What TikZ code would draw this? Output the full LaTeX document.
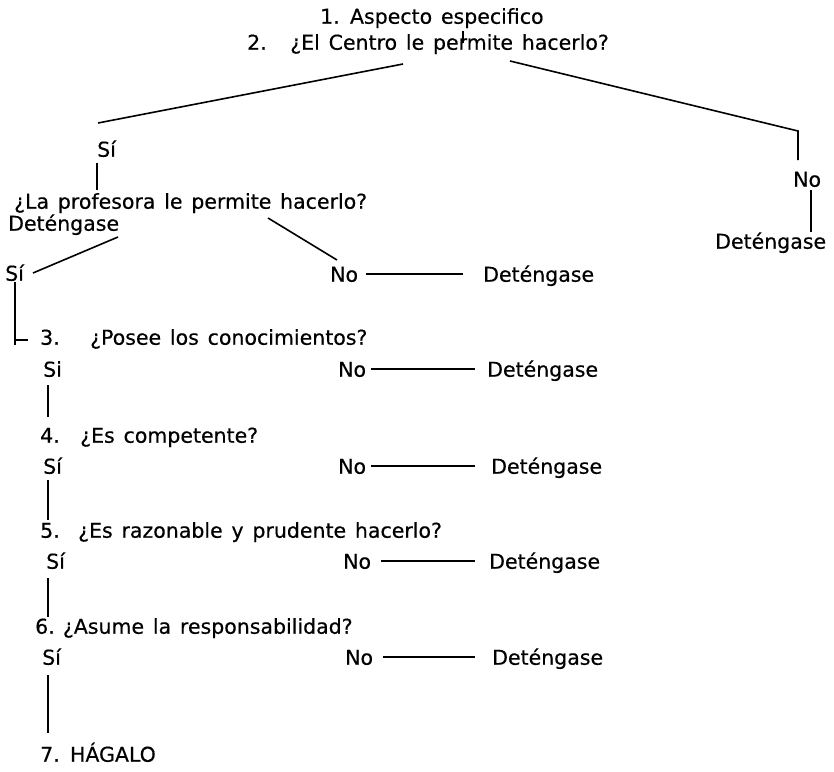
\documentclass[tikz,border=0pt]{standalone}
\usepackage{fontspec}
\setmainfont[WordSpace=1.35,FakeBold=0.4]{DejaVu Sans}
\begin{document}
\begin{tikzpicture}[x=1pt,y=-1pt,
  txt/.style={anchor=mid west, inner sep=0pt, font=\fontsize{20.5}{24}\selectfont},
  conn/.style={line width=1.6pt, black},
  thin/.style={line width=1.1pt, black}]
\fill[white] (0,0) rectangle (834,771);
\useasboundingbox (0,0) rectangle (834,771);
% nodes
\node[txt] (a1) at (320,21) {1.\hspace{0.5em}Aspecto especifico};
\node[txt] (a2) at (247,47) {2.\hspace{1.15em}¿El Centro le permite hacerlo?};
\node[txt] (si1) at (97,154) {Sí};
\node[txt] (no1) at (793,184) {No};
\node[txt] (det1) at (715,246) {Deténgase};
\node[txt] (prof) at (14,206) {¿La profesora le permite hacerlo?};
\node[txt] (det2) at (8,228) {Deténgase};
\node[txt] (si2) at (5,278) {Sí};
\node[txt] (no2) at (330,279) {No};
\node[txt] (det3) at (483,279) {Deténgase};
\node[txt] (q3n) at (40,342) {3.};
\node[txt] (q3) at (90,342) {¿Posee los conocimientos?};
\node[txt] (si3) at (43,374) {Si};
\node[txt] (no3) at (338,374) {No};
\node[txt] (det4) at (487,374) {Deténgase};
\node[txt] (q4) at (40,440) {4.\hspace{1em}¿Es competente?};
\node[txt] (si4) at (43,471) {Sí};
\node[txt] (no4) at (338,471) {No};
\node[txt] (det5) at (491,471) {Deténgase};
\node[txt] (q5) at (40,535) {5.\hspace{0.9em}¿Es razonable y prudente hacerlo?};
\node[txt] (si5) at (46,566) {Sí};
\node[txt] (no5) at (343,566) {No};
\node[txt] (det6) at (489,566) {Deténgase};
\node[txt] (q6) at (35,631) {6.\hspace{0.4em}¿Asume la responsabilidad?};
\node[txt] (si6) at (42,662) {Sí};
\node[txt] (no6) at (345,662) {No};
\node[txt] (det7) at (492,662) {Deténgase};
\node[txt] (q7) at (40,759) {7.\hspace{0.5em}HÁGALO};
% coordinates
\coordinate (t1) at (463,31);
\coordinate (t2) at (463,43);
\coordinate (c2l) at (403,64);
\coordinate (c2ll) at (98,123);
\coordinate (c2r) at (510,61);
\coordinate (c2rb) at (798,131);
\coordinate (c2rn) at (798,160);
\coordinate (n1a) at (811,190);
\coordinate (n1b) at (811,232);
\coordinate (s1a) at (97,163);
\coordinate (s1b) at (97,190);
\coordinate (d2a) at (118,237);
\coordinate (d2b) at (33,273);
\coordinate (pa) at (268,218);
\coordinate (pb) at (337,260);
\coordinate (s2a) at (15,282);
\coordinate (s2b) at (15,345);
\coordinate (s2c) at (15,340);
\coordinate (s2d) at (28,340);
\coordinate (v3a) at (48,385);
\coordinate (v3b) at (48,417);
\coordinate (v4a) at (48,480);
\coordinate (v4b) at (48,520);
\coordinate (v5a) at (48,578);
\coordinate (v5b) at (48,617);
\coordinate (v6a) at (48,675);
\coordinate (v6b) at (48,733);
% connectors
\draw[thin] (t1) -- (t2);
\draw[conn] (c2l) -- (c2ll);
\draw[conn] (c2r) -- (c2rb) -- (c2rn);
\draw[thin] (n1a) -- (n1b);
\draw[thin] (s1a) -- (s1b);
\draw[conn] (d2a) -- (d2b);
\draw[conn] (pa) -- (pb);
\draw[conn, shorten <=8pt, shorten >=20pt] ([yshift=5pt]no2.mid east) -- ([yshift=5pt]det3.mid west);
\draw[thin] (s2a) -- (s2b);
\draw[thin] (s2c) -- (s2d);
\draw[conn] (v3a) -- (v3b);
\draw[conn, shorten <=5pt, shorten >=12pt] ([yshift=5pt]no3.mid east) -- ([yshift=5pt]det4.mid west);
\draw[conn] (v4a) -- (v4b);
\draw[conn, shorten <=5pt, shorten >=16pt] ([yshift=5pt]no4.mid east) -- ([yshift=5pt]det5.mid west);
\draw[thin] (v5a) -- (v5b);
\draw[conn, shorten <=10pt, shorten >=14pt] ([yshift=5pt]no5.mid east) -- ([yshift=5pt]det6.mid west);
\draw[conn] (v6a) -- (v6b);
\draw[conn, shorten <=10pt, shorten >=17pt] ([yshift=5pt]no6.mid east) -- ([yshift=5pt]det7.mid west);
\end{tikzpicture}
\end{document}
